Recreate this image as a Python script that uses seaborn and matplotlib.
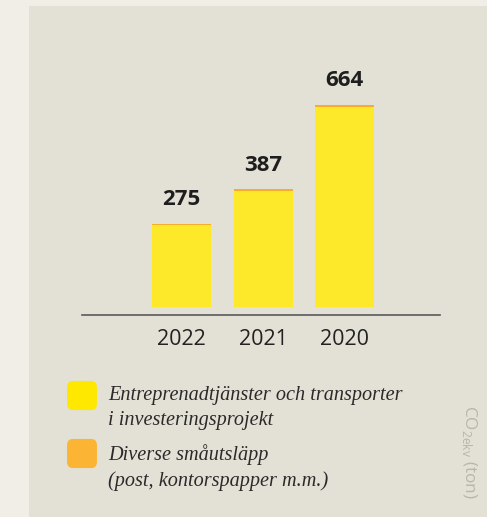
import matplotlib
matplotlib.use("Agg")
import matplotlib.pyplot as plt
import seaborn as sns
import pandas as pd
from matplotlib.patches import Rectangle, FancyBboxPatch

# ----------------------------------------------------------
# Data (ton CO2e)
# ----------------------------------------------------------
years = ["2022", "2021", "2020"]
totals = [275, 387, 664]
smaller = [4, 4, 4]                     # diverse småutsläpp
projects = [t - s for t, s in zip(totals, smaller)]

legend_labels = ["Entreprenadtjänster och transporter\ni investeringsprojekt",
                 "Diverse småutsläpp\n(post, kontorspapper m.m.)"]

df = pd.DataFrame({"year": years, "total": totals, "projects": projects})

YELLOW = "#fde92a"
YELLOW_LEG = "#ffe800"
ORANGE = "#f9ac2a"
OUTER_BG = "#f0eee7"
PANEL_BG = "#e3e1d5"

sns.set_style("white")
plt.rcParams["font.family"] = ["Open Sans", "DejaVu Sans"]

fig = plt.figure(figsize=(4.87, 5.17), dpi=100)
fig.patch.set_facecolor(OUTER_BG)
fig.patches.append(Rectangle((29 / 487, 0), 1, 1 - 6 / 517, transform=fig.transFigure,
                             facecolor=PANEL_BG, edgecolor="none", zorder=-1))

ax = fig.add_axes([82 / 487, 1 - 315 / 517, 358 / 487, 255 / 517])
ax.set_facecolor("none")

# orange totals below, yellow on top -> thin orange cap
sns.barplot(data=df, x="year", y="total", order=years, color=ORANGE,
            width=0.724, saturation=1, linewidth=0, ax=ax)
sns.barplot(data=df, x="year", y="projects", order=years, color=YELLOW,
            width=0.724, saturation=1, linewidth=0, ax=ax)

for i, t in enumerate(totals):
    ax.annotate(str(t), (i, t), xytext=(0, 10), textcoords="offset points",
                ha="center", va="bottom", fontsize=16, fontweight="bold",
                color="#1e1e1e")

ax.set_xlim(-1.22, 3.17)
ax.set_ylim(-26, 813)
ax.set_xlabel("")
ax.set_ylabel("")
ax.set_yticks([])
ax.tick_params(axis="x", length=0, labelsize=15.5, labelcolor="#222222", pad=10)
sns.despine(ax=ax, left=True, top=True, right=True)
ax.spines["bottom"].set_color("#5a5a5a")
ax.spines["bottom"].set_linewidth(1.2)

# legend
for y_top, col, lab in [(381, YELLOW_LEG, legend_labels[0]),
                        (439, "#fbb433", legend_labels[1])]:
    fig.patches.append(FancyBboxPatch((69 / 487, 1 - (y_top + 27) / 517), 26 / 487, 25 / 517,
                                      boxstyle="round,pad=0.004,rounding_size=0.012",
                                      transform=fig.transFigure, facecolor=col,
                                      edgecolor="none", zorder=2))
    fig.text(108 / 487, 1 - (y_top + 5) / 517, lab, ha="left", va="top",
             family="Liberation Serif", style="italic", fontsize=14.6,
             color="#2a2a2a", linespacing=1.45)

fig.text(470 / 487, 1 - 452 / 517, "CO$_{\\mathregular{2ekv}}$ (ton)", rotation=-90,
         ha="center", va="center", fontsize=12.3, color="#b8b6ad")

plt.savefig("out.png", dpi=100, facecolor=fig.get_facecolor())
